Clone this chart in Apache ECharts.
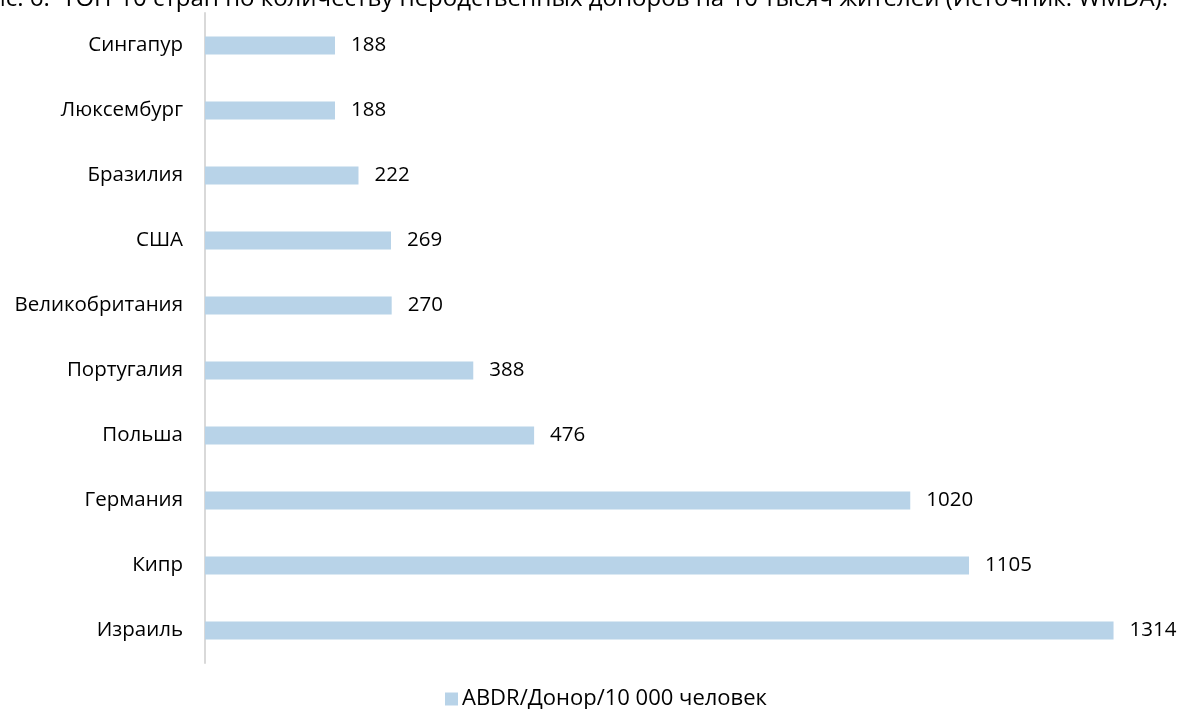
<!DOCTYPE html>
<html>
<head>
<meta charset="utf-8">
<script src="https://cdn.jsdelivr.net/npm/echarts@6/dist/echarts.min.js"></script>
<style>html,body{margin:0;padding:0;background:#fff}#c{width:1182px;height:709px}</style>
</head>
<body>
<div id="c"></div>
<script>
const categories = ['Сингапур','Люксембург','Бразилия','США','Великобритания','Португалия','Польша','Германия','Кипр','Израиль'];
const values = [188,188,222,269,270,388,476,1020,1105,1314];
const seriesName = 'ABDR/Донор/10 000 человек';
const titleText = 'Рис. 6.  ТОП-10 стран по количеству неродственных доноров на 10 тысяч жителей (Источник: WMDA).';

const font = 'Open Sans';
const chart = echarts.init(document.getElementById('c'));
chart.setOption({
  animation: false,
  textStyle: {fontFamily: font},
  title: {
    text: titleText, right: 14, top: -13, padding: 0,
    textStyle: {fontFamily: font, fontSize: 24, fontWeight: 'normal', color: '#000'}
  },
  legend: {
    top: 688, left: 445, itemWidth: 13, itemHeight: 13, itemGap: 4, padding: 0,
    icon: 'rect',
    textStyle: {fontFamily: font, fontSize: 22, color: '#000', padding: [0,0,0,-1]},
    data: [seriesName]
  },
  grid: {left: 205, top: 13, width: 968, height: 650, containLabel: false},
  xAxis: {type: 'value', min: 0, max: 1400, show: false},
  yAxis: {
    type: 'category', data: categories, inverse: true,
    axisLine: {show: true, lineStyle: {color: '#d9d9d9', width: 2}},
    axisTick: {show: false},
    axisLabel: {fontFamily: font, fontSize: 20.5, color: '#000', margin: 22}
  },
  series: [{
    name: seriesName, type: 'bar', data: values, barWidth: 18,
    itemStyle: {color: '#b8d3e8'},
    label: {show: true, position: 'right', distance: 16, fontFamily: font, fontSize: 20.5, color: '#000'}
  }]
});
</script>
</body>
</html>
